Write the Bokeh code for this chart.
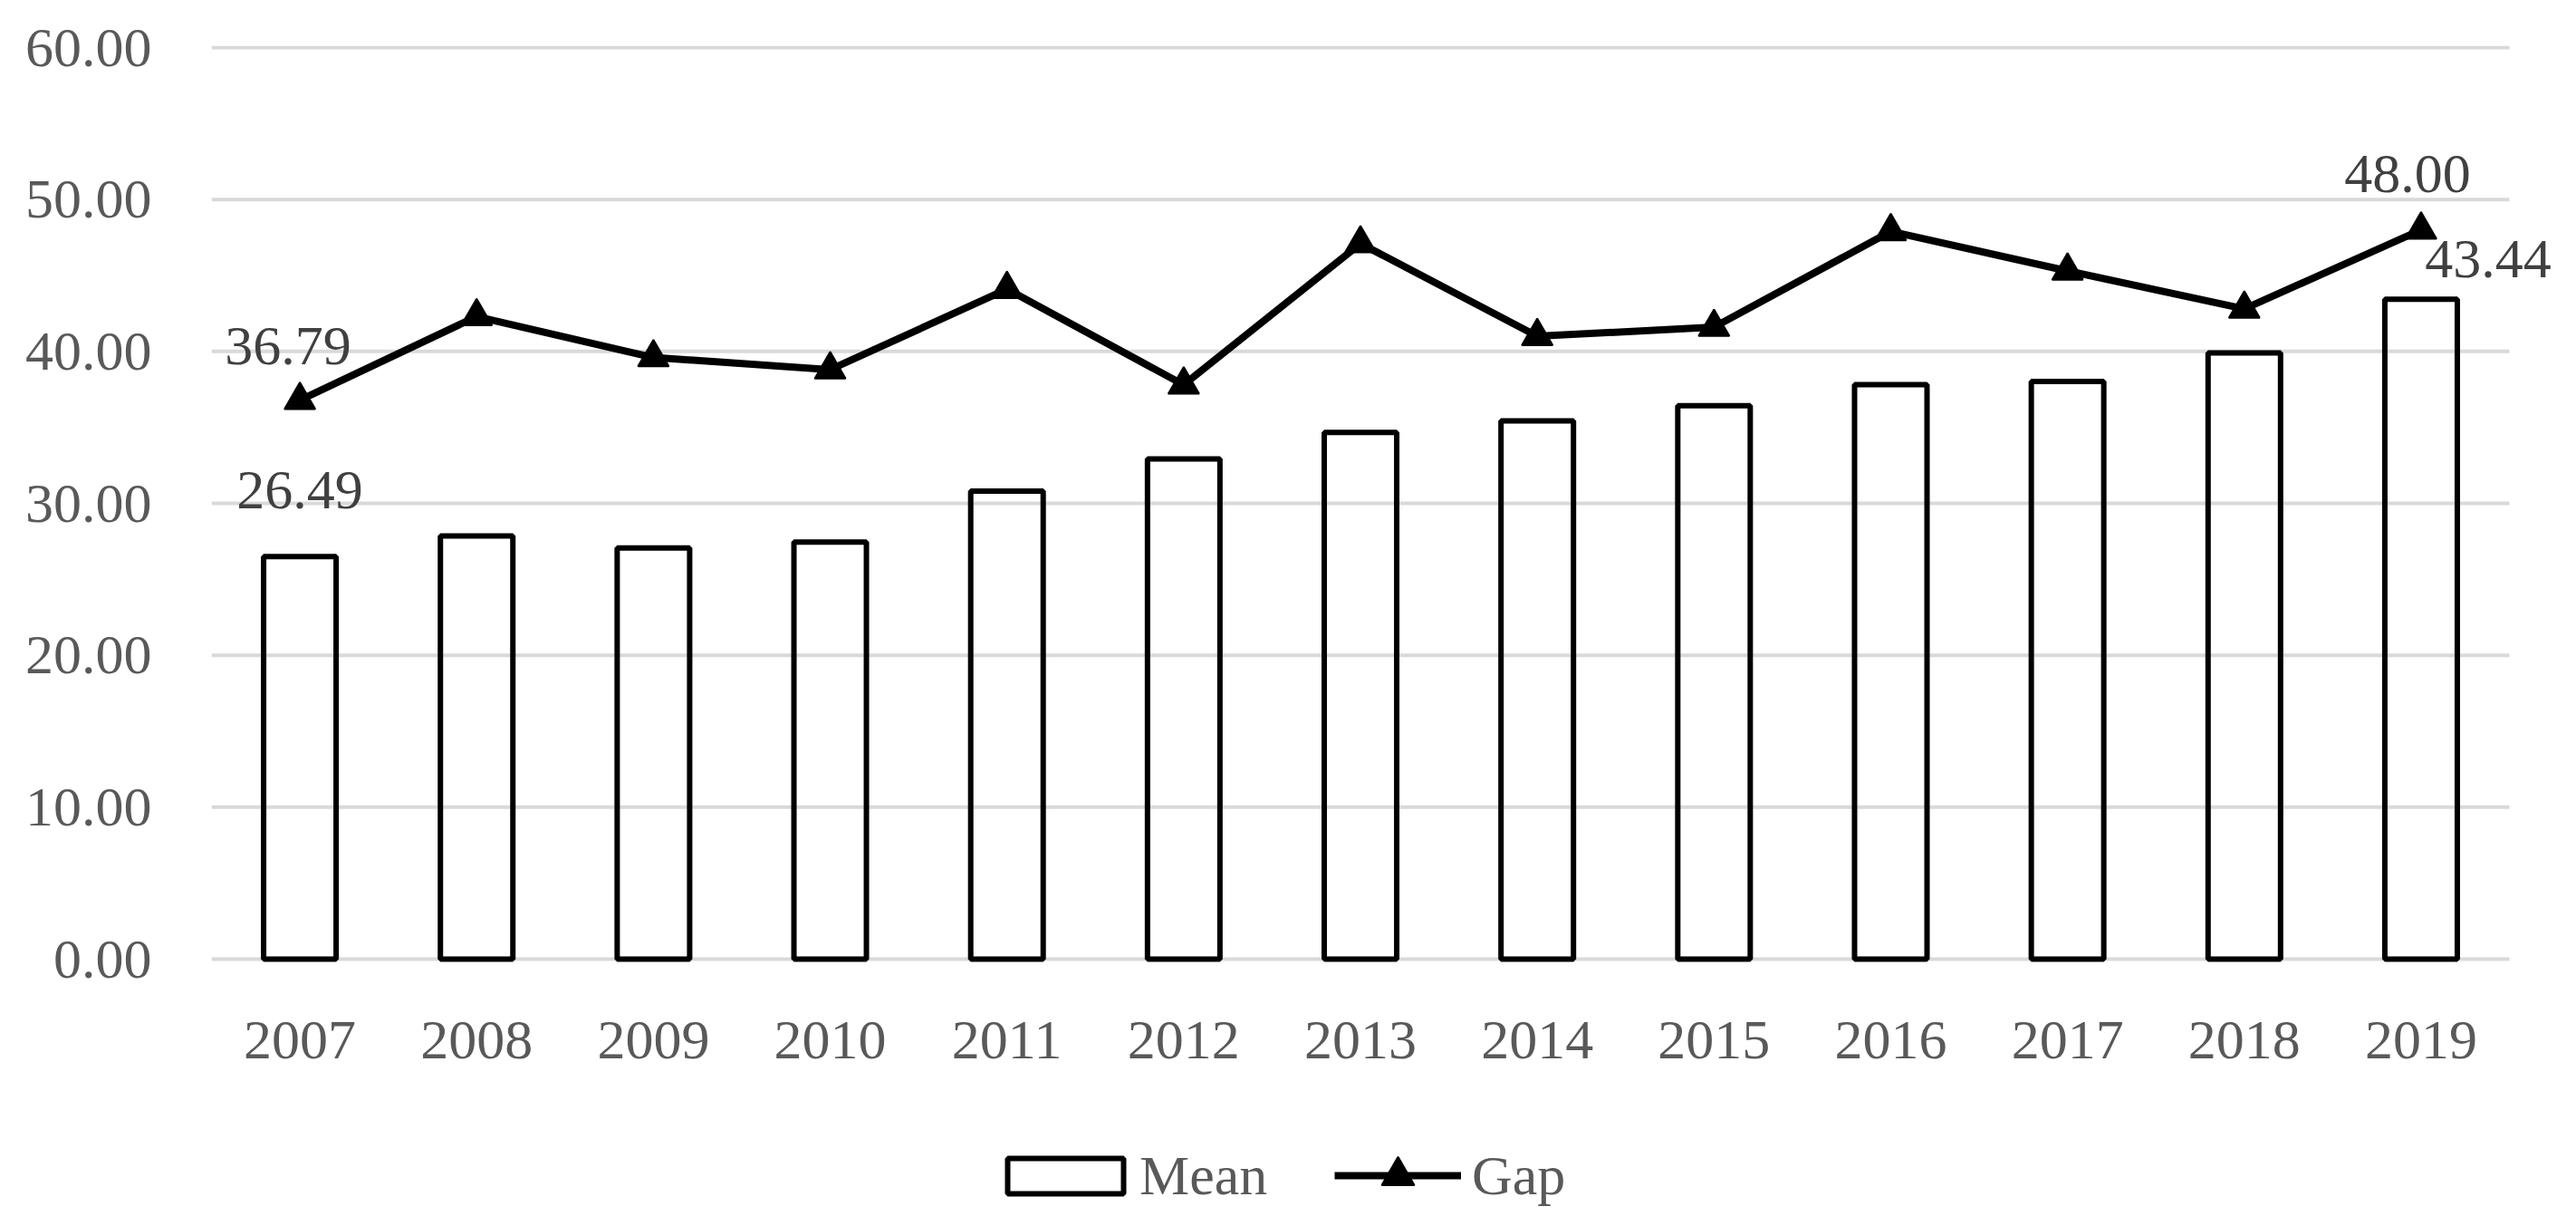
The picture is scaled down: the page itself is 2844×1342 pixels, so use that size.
from bokeh.plotting import figure
from bokeh.models import (ColumnDataSource, Range1d, FixedTicker,
                          PrintfTickFormatter, LabelSet, Legend, LegendItem)
from bokeh.embed import file_html
from bokeh.resources import INLINE

# ---- data ----
years = ["2007", "2008", "2009", "2010", "2011", "2012", "2013",
         "2014", "2015", "2016", "2017", "2018", "2019"]
mean = [26.49, 27.85, 27.06, 27.45, 30.80, 32.93, 34.67,
        35.43, 36.42, 37.82, 38.02, 39.90, 43.44]
gap = [36.79, 42.30, 39.60, 38.80, 44.10, 37.80, 47.10,
       41.00, 41.60, 47.90, 45.30, 42.80, 48.00]
y_ticks = [0, 10, 20, 30, 40, 50, 60]
series_names = ["Mean", "Gap"]

FONT = "Liberation Serif"
FSIZE = "62px"
AXIS_COLOR = "#595959"
LABEL_COLOR = "#404040"

idx = list(range(len(years)))          # category slots on the x scale
src = ColumnDataSource(dict(x=idx, year=years, mean=mean, gap=gap))

p = figure(width=2836, height=1334,
           x_range=Range1d(-0.5, 12.838), y_range=Range1d(-16.46, 60.12),
           output_backend="svg", toolbar_location=None,
           min_border_left=233, min_border_right=0,
           min_border_top=50, min_border_bottom=0)

# horizontal gridlines spanning only the category area
grid = p.segment(x0=idx[0] - 0.5, x1=idx[-1] + 0.5, y0=y_ticks, y1=y_ticks,
                 line_color="#d9d9d9", line_width=4)
bars = p.vbar(x="x", top="mean", width=0.41, source=src,
              fill_color="white", fill_alpha=0.0,
              line_color="black", line_width=6)
line = p.line(x="x", y="gap", source=src, line_color="black",
              line_width=8, line_join="round")
pts = p.scatter(x="x", y="gap", source=src, marker="triangle", size=34,
                fill_color="black", line_color="black", line_width=2)

# ---- axes ----
p.outline_line_color = None
p.xgrid.grid_line_color = None
p.ygrid.grid_line_color = None

p.xaxis.ticker = FixedTicker(ticks=idx)
p.xaxis.major_label_overrides = {i: y for i, y in zip(idx, years)}
p.xaxis.fixed_location = 0
p.yaxis.ticker = FixedTicker(ticks=y_ticks)
p.yaxis.formatter = PrintfTickFormatter(format="%.2f")
for ax in (p.xaxis, p.yaxis):
    ax.axis_line_color = None
    ax.major_tick_line_color = None
    ax.minor_tick_line_color = None
    ax.major_tick_out = 0
    ax.major_tick_in = 0
    ax.major_label_text_font = FONT
    ax.major_label_text_font_size = FSIZE
    ax.major_label_text_color = AXIS_COLOR
p.xaxis.major_label_standoff = 69
p.yaxis.major_label_standoff = 66

# ---- data labels (first and last points) ----
gap_lbl = ColumnDataSource(dict(
    x=[idx[0], idx[-1]], y=[gap[0], gap[-1]],
    text=[f"{gap[0]:.2f}", f"{gap[-1]:.2f}"],
    dx=[-13, -15], dy=[60, 62]))
mean_lbl = ColumnDataSource(dict(
    x=[idx[0], idx[-1]], y=[mean[0], mean[-1]],
    text=[f"{mean[0]:.2f}", f"{mean[-1]:.2f}"],
    dx=[0, 74], dy=[73, 44]))
for s in (gap_lbl, mean_lbl):
    p.add_layout(LabelSet(x="x", y="y", text="text", source=s,
                          x_offset="dx", y_offset="dy",
                          text_align="center", text_baseline="middle",
                          text_font=FONT, text_font_size=FSIZE,
                          text_color=LABEL_COLOR))

# ---- legends ----
common = dict(orientation="horizontal", padding=0, margin=0, spacing=0,
              border_line_color=None, background_fill_alpha=0,
              label_text_font=FONT,
              label_text_font_size=FSIZE, label_text_color=AXIS_COLOR)
leg_mean = Legend(items=[LegendItem(label=series_names[0], renderers=[bars])],
                  location=(863, 1), glyph_width=160, glyph_height=49,
                  label_standoff=2, **common)
leg_gap = Legend(items=[LegendItem(label=series_names[1], renderers=[line, pts])],
                 location=(1240, -8), glyph_width=140, glyph_height=90,
                 label_standoff=12, **common)
p.add_layout(leg_mean)
p.add_layout(leg_gap)

open("out.html", "w").write(file_html(p, INLINE))
